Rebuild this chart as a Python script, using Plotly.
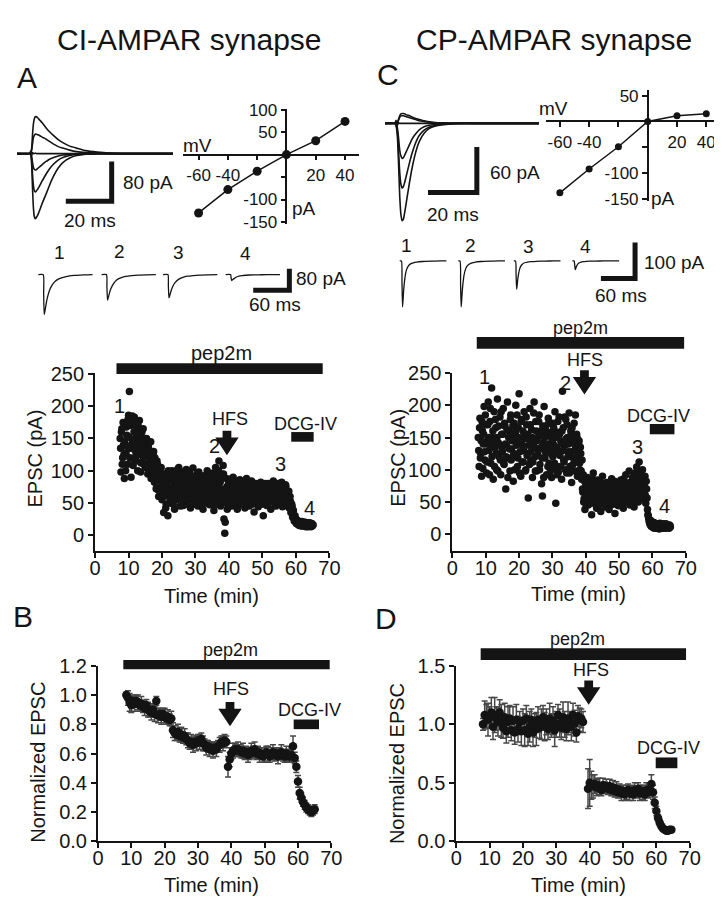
import plotly.graph_objects as go

W, H = 722, 900
FONT = "Liberation Sans, Arial, Helvetica, sans-serif"
INK = "#141414"

# ====================== DATA ======================
HOLD_MV = [-60, -40, -20, 0, 20, 40]
A_IV_PA = [-130, -78, -37, 0, 31, 74]
C_IV_PA = [-138, -92, -49, 0, 11, 15]

# A: EPSCs at the holding potentials above (CI-AMPAR)
A_TR_MS = [0, 5.5, 6.0, 6.4, 6.8, 7.2, 7.6, 8.0, 8.5, 9, 10, 11, 12, 13, 14, 16, 18, 20, 23, 26, 30, 35, 40, 50, 60, 68]
A_TR_PA = [
    [0, 0, -2, -20, -70, -110, -127, -131, -128, -124, -113, -100, -89, -78, -66, -45, -29, -18, -9, -4, -1, 0, 0, 0, 0, 0],
    [0, 0, -1, -12, -42, -65, -75, -77, -75, -72, -64, -55, -47, -39, -32, -21, -13, -8, -4, -2, -0.5, 0, 0, 0, 0, 0],
    [0, 0, -1, -5, -18, -28, -32, -33, -32, -30, -26, -22, -18, -15, -12, -8, -5, -3, -1.5, -0.5, 0, 0, 0, 0, 0, 0],
    [0, 0, 5, -4, 2, 0, 0, 1, 0, 0, 0, 0, 0, 0, 0, 0, 0, 0, 0, 0, 0, 0, 0, 0, 0, 0],
    [0, 0, 1, 6, 20, 32, 37, 39, 39, 38, 36, 33, 31, 28, 25, 19, 14, 11, 7, 4, 2, 1, 0.5, 0, 0, 0],
    [0, 0, 2, 10, 38, 60, 70, 74, 74, 72, 67, 62, 56, 50, 45, 36, 28, 22, 15, 11, 6, 3, 1, 0, 0, 0],
]
# C: EPSCs at the holding potentials above (CP-AMPAR)
C_TR_MS = [0, 4.0, 4.5, 5.0, 5.5, 6.0, 6.5, 7.0, 7.5, 8, 9, 10, 11, 12, 13, 14, 16, 18, 20, 23, 26, 30, 40, 50, 63]
C_TR_PA = [
    [0, 0, -3, -15, -50, -95, -120, -128, -126, -118, -98, -78, -60, -45, -33, -24, -13, -7, -4, -2, -1, 0, 0, 0, 0],
    [0, 0, -2, -10, -34, -64, -80, -85, -83, -78, -65, -52, -40, -30, -22, -16, -9, -5, -3, -1.5, -0.5, 0, 0, 0, 0],
    [0, 0, -1, -5, -18, -35, -43, -46, -45, -42, -35, -28, -21, -16, -12, -8.5, -4.5, -2.5, -1.5, -0.7, -0.3, 0, 0, 0, 0],
    [0, 0, 4, -3, 1, 0, 0, 0, 0, 0, 0, 0, 0, 0, 0, 0, 0, 0, 0, 0, 0, 0, 0, 0, 0],
    [0, 0, 0, 1, 4, 8, 10, 10, 10, 9.5, 8.5, 7.5, 6.5, 5.5, 4.5, 3.5, 2.5, 1.5, 1, 0.5, 0.2, 0, 0, 0, 0],
    [0, 0, 0, 1.5, 5, 10, 12.5, 13, 13, 12.5, 11, 10, 8.5, 7, 6, 5, 3.5, 2, 1.2, 0.6, 0.3, 0, 0, 0, 0],
]

# example sweeps 1-4 (times marked on the time course)
A_SWEEP_MS = [0, 8, 8.8, 9.8, 11, 13, 15, 18, 22, 27, 33, 40, 50, 60, 75, 90]
A_SWEEPS = [
    [0, 0, -70, -149, -135, -108, -86, -62, -42, -27, -17, -11, -6, -3, -1, 0],
    [0, 0, -45, -95, -86, -69, -55, -40, -27, -17, -11, -7, -4, -2, -1, 0],
    [0, 0, -41, -87, -79, -63, -50, -36, -25, -16, -10, -6, -3.5, -2, -1, 0],
    [0, 0, -10, -22, -20, -16, -13, -9, -6, -4, -2.5, -1.5, -1, -0.5, 0, 0],
]
C_SWEEP_MS = [0, 3, 4, 5, 6, 7, 8.5, 10, 12, 15, 19, 24, 30, 40, 55, 70, 82]
C_SWEEPS = [
    [0, 0, -60, -127, -105, -80, -55, -38, -24, -14, -8, -5, -3, -1.5, -0.5, 0, 0],
    [0, 0, -62, -127, -108, -83, -58, -40, -26, -15, -9, -5.5, -3, -1.5, -0.5, 0, 0],
    [0, 0, -38, -78, -66, -50, -35, -24, -15, -9, -5, -3, -2, -1, -0.3, 0, 0],
    [0, 0, -12, -24, -20, -15, -11, -7.5, -5, -3, -1.7, -1, -0.6, -0.3, 0, 0, 0],
]

# single-cell time courses: EPSCs every 0.25 min, two interleaved sets (offset 0.125 min)
EPSC_DT = 0.25
A_T0 = 7.5
A_EPSC = [
    150, 98, 165, 120, 140, 88, 172, 128, 155, 110,
    186, 223, 135, 90, 180, 145, 118, 183, 150, 125,
    165, 100, 140, 178, 132, 112, 160, 138, 120, 150,
    105, 142, 128, 95, 135, 112, 125, 88, 118, 100,
    130, 82, 108, 72, 115, 90, 60, 98, 75, 105,
    55, 85, 35, 70, 95, 48, 78, 30, 65, 90,
    50, 72, 100, 58, 82, 40, 68, 95, 55, 75,
    105, 62, 45, 85, 70, 98, 52, 78, 60, 102,
    48, 88, 66, 95, 42, 75, 58, 104, 70, 52,
    90, 63, 80, 45, 98, 68, 55, 85, 72, 40,
    92, 60, 78, 50, 100, 66, 84, 47, 70, 96,
    58, 80, 38, 74, 105, 62, 88, 52, 115, 70,
    45, 95, 60, 108, 25, 3, 50, 88, 40, 65,
    78, 55, 85, 45, 70, 90, 60, 50, 80, 66,
    40, 74, 58, 86, 48, 68, 55, 80, 62, 42,
    72, 88, 52, 66, 45, 78, 60, 84, 50, 70,
    36, 64, 80, 56, 74, 44, 68, 58, 82, 48,
    66, 30, 72, 54, 78, 46, 62, 80, 52, 68,
    40, 76, 58, 84, 50, 64, 45, 72, 56, 80,
    48, 66, 58, 82, 44, 70, 60, 52, 76, 46,
    64, 55, 42, 60, 35, 48, 28, 38, 22, 30,
    20, 24, 17, 22, 15, 19, 16, 21, 14, 18,
    15, 20, 13, 17, 15, 19, 14, 16, 13, 18,
    15,
]
A_T0_2 = 7.625
A_EPSC_2 = [
    135, 160, 110, 175, 125, 145, 100, 168, 138, 180,
    152, 120, 170, 140, 185, 108, 160, 132, 172, 115,
    145, 170, 125, 155, 98, 148, 130, 165, 110, 142,
    125, 150, 108, 138, 120, 100, 145, 115, 92, 128,
    105, 120, 95, 88, 110, 70, 100, 85, 65, 92,
    75, 60, 95, 80, 42, 88, 62, 100, 70, 55,
    85, 64, 90, 48, 76, 88, 60, 80, 102, 66,
    78, 90, 58, 70, 92, 46, 84, 66, 95, 56,
    74, 60, 98, 80, 55, 88, 66, 78, 48, 92,
    70, 56, 96, 62, 84, 74, 50, 90, 64, 80,
    68, 86, 56, 76, 62, 92, 54, 80, 66, 52,
    88, 70, 60, 94, 48, 78, 66, 100, 58, 82,
    72, 88, 52, 95, 68, 20, 60, 75, 52, 80,
    62, 72, 52, 88, 60, 76, 68, 82, 56, 72,
    62, 84, 52, 70, 76, 58, 66, 50, 74, 62,
    58, 76, 64, 82, 54, 68, 72, 48, 64, 76,
    56, 70, 62, 48, 66, 76, 54, 72, 60, 64,
    74, 56, 64, 80, 60, 70, 50, 66, 74, 58,
    66, 54, 70, 62, 74, 56, 80, 62, 68, 52,
    72, 60, 76, 54, 64, 70, 56, 78, 62, 68,
    56, 68, 48, 52, 40, 44, 32, 26, 25, 22,
    18, 21, 19, 16, 20, 17, 14, 19, 16, 20,
    17, 14, 18, 16, 13, 17, 19, 15, 17, 14,
    16,
]
C_T0 = 7.75
C_EPSC = [
    150, 105, 180, 125, 90, 160, 140, 198, 115, 170,
    95, 145, 205, 130, 175, 110, 227, 150, 85, 190,
    135, 165, 100, 210, 142, 120, 182, 92, 155, 128,
    195, 108, 168, 70, 138, 205, 118, 160, 98, 185,
    132, 150, 82, 172, 122, 200, 145, 105, 165, 218,
    128, 90, 178, 138, 112, 190, 155, 100, 170, 125,
    56, 148, 195, 115, 162, 88, 140, 205, 120, 175,
    98, 150, 130, 185, 108, 160, 78, 59, 142, 198,
    118, 168, 92, 135, 180, 110, 152, 125, 88, 172,
    140, 102, 190, 48, 130, 158, 96, 182, 122, 145,
    85, 222, 165, 112, 138, 178, 95, 150, 128, 188,
    105, 160, 80, 142, 118, 172, 98, 135, 155, 90,
    120, 145, 100, 125, 85, 70, 92, 55, 38, 75,
    60, 88, 45, 68, 52, 80, 30, 62, 95, 48,
    72, 58, 40, 84, 65, 50, 76, 35, 60, 90,
    55, 70, 42, 66, 80, 50, 62, 38, 74, 56,
    86, 46, 68, 58, 32, 78, 52, 64, 44, 72,
    60, 84, 48, 66, 40, 76, 56, 92, 50, 70,
    62, 98, 45, 80, 58, 88, 66, 42, 95, 60,
    104, 72, 50, 112, 68, 85, 55, 100, 76, 62,
    90, 48, 70, 38, 28, 20, 16, 21, 12, 15,
    10, 18, 13, 9, 16, 11, 14, 8, 17, 12,
    10, 15, 9, 13, 11, 16, 10, 14, 12, 9,
    13,
]
C_T0_2 = 7.875
C_EPSC_2 = [
    130, 165, 118, 145, 175, 102, 155, 128, 185, 140,
    112, 170, 150, 92, 195, 135, 120, 160, 142, 105,
    178, 125, 150, 98, 168, 138, 115, 190, 130, 155,
    110, 172, 140, 120, 162, 88, 150, 132, 178, 115,
    145, 168, 125, 100, 158, 138, 185, 118, 150, 95,
    140, 175, 112, 160, 130, 148, 98, 182, 122, 155,
    138, 108, 170, 128, 150, 112, 188, 135, 98, 160,
    145, 122, 175, 100, 155, 135, 118, 168, 88, 150,
    128, 160, 140, 105, 172, 132, 98, 158, 145, 120,
    165, 110, 150, 135, 92, 175, 125, 155, 105, 140,
    160, 130, 115, 182, 100, 148, 170, 120, 140, 95,
    152, 128, 165, 108, 145, 130, 185, 112, 150, 125,
    140, 110, 135, 98, 115, 65, 50, 82, 68, 45,
    72, 55, 80, 62, 48, 70, 58, 85, 52, 66,
    60, 76, 50, 68, 45, 82, 58, 70, 64, 52,
    78, 62, 48, 72, 58, 68, 80, 54, 64, 46,
    70, 60, 52, 82, 64, 56, 74, 48, 68, 58,
    76, 54, 64, 58, 86, 50, 68, 62, 74, 56,
    70, 80, 58, 66, 74, 52, 84, 62, 70, 78,
    66, 88, 60, 94, 72, 80, 58, 86, 68, 74,
    60, 82, 56, 30, 24, 18, 14, 12, 16, 11,
    14, 9, 15, 12, 10, 16, 13, 11, 15, 9,
    12, 16, 11, 14, 9, 13, 15, 10, 12, 14,
    11,
]

# group means (normalized) +/- SEM, one bin every 0.5 min
BIN_DT = 0.5
B_T0 = 8.5
B_NORM = [
    1.00, 0.98, 0.95, 0.93, 0.96, 0.94, 0.96, 0.95, 0.93, 0.94,
    0.92, 0.91, 0.93, 0.90, 0.89, 0.88, 0.90, 0.87, 0.96, 0.86,
    0.87, 0.85, 0.87, 0.86, 0.84, 0.85, 0.83, 0.84, 0.76, 0.74,
    0.73, 0.75, 0.72, 0.73, 0.71, 0.72, 0.70, 0.69, 0.67, 0.68,
    0.66, 0.68, 0.67, 0.69, 0.68, 0.70, 0.67, 0.66, 0.64, 0.65,
    0.63, 0.64, 0.62, 0.64, 0.63, 0.65, 0.66, 0.68, 0.67, 0.69,
    0.68, 0.51, 0.56, 0.60, 0.62, 0.63, 0.62, 0.63, 0.62, 0.61,
    0.62, 0.60, 0.61, 0.59, 0.60, 0.62, 0.61, 0.63, 0.60, 0.61,
    0.59, 0.60, 0.58, 0.59, 0.61, 0.60, 0.58, 0.60, 0.61, 0.59,
    0.60, 0.58, 0.60, 0.61, 0.59, 0.58, 0.60, 0.59, 0.58, 0.59,
    0.65, 0.57, 0.51, 0.41, 0.33, 0.30, 0.27, 0.25, 0.23, 0.22,
    0.21, 0.20, 0.21, 0.22,
]
B_SEM = [
    0.02, 0.05, 0.06, 0.05, 0.04, 0.05, 0.04, 0.05, 0.04, 0.05,
    0.04, 0.05, 0.04, 0.05, 0.04, 0.05, 0.04, 0.05, 0.03, 0.05,
    0.04, 0.05, 0.04, 0.05, 0.04, 0.05, 0.04, 0.05, 0.05, 0.05,
    0.04, 0.05, 0.04, 0.05, 0.04, 0.05, 0.04, 0.05, 0.04, 0.05,
    0.05, 0.04, 0.05, 0.04, 0.05, 0.04, 0.05, 0.04, 0.05, 0.04,
    0.05, 0.04, 0.05, 0.04, 0.05, 0.04, 0.05, 0.04, 0.05, 0.04,
    0.04, 0.07, 0.05, 0.04, 0.05, 0.04, 0.04, 0.05, 0.04, 0.04,
    0.05, 0.04, 0.04, 0.05, 0.04, 0.05, 0.04, 0.05, 0.04, 0.04,
    0.05, 0.04, 0.04, 0.05, 0.04, 0.05, 0.04, 0.04, 0.05, 0.04,
    0.04, 0.05, 0.04, 0.05, 0.04, 0.04, 0.05, 0.04, 0.04, 0.05,
    0.07, 0.04, 0.04, 0.04, 0.04, 0.03, 0.03, 0.03, 0.03, 0.03,
    0.03, 0.03, 0.03, 0.03,
]
D1_T0 = 8.0
D1_NORM = [
    1.00, 1.08, 1.07, 1.04, 1.06, 1.10, 0.98, 1.08, 1.05, 1.02,
    1.10, 1.03, 0.97, 1.06, 0.94, 1.02, 1.05, 0.95, 1.03, 0.93,
    1.04, 0.96, 1.02, 0.94, 1.03, 0.95, 1.05, 0.92, 0.98, 1.04,
    0.93, 0.99, 0.96, 1.04, 0.97, 1.00, 1.06, 0.98, 1.02, 0.96,
    1.05, 0.99, 1.03, 0.95, 1.00, 1.08, 1.01, 0.97, 1.06, 1.00,
    0.96, 1.05, 1.02, 0.98, 1.08, 1.01, 0.93, 1.07, 1.04, 1.05,
    1.02,
]
D1_SEM = [
    0.05, 0.12, 0.10, 0.14, 0.09, 0.13, 0.11, 0.15, 0.10, 0.12,
    0.11, 0.14, 0.09, 0.12, 0.10, 0.13, 0.11, 0.09, 0.12, 0.10,
    0.13, 0.11, 0.09, 0.12, 0.10, 0.14, 0.11, 0.10, 0.13, 0.09,
    0.12, 0.10, 0.14, 0.11, 0.09, 0.13, 0.10, 0.12, 0.11, 0.09,
    0.13, 0.10, 0.12, 0.14, 0.11, 0.09, 0.12, 0.10, 0.13, 0.11,
    0.10, 0.14, 0.09, 0.12, 0.10, 0.11, 0.08, 0.09, 0.10, 0.08,
    0.09,
]
D2_T0 = 39.5
D2_NORM = [
    0.45, 0.50, 0.48, 0.47, 0.49, 0.46, 0.48, 0.47, 0.44, 0.48,
    0.46, 0.47, 0.45, 0.47, 0.44, 0.46, 0.43, 0.45, 0.42, 0.44,
    0.41, 0.43, 0.40, 0.42, 0.44, 0.41, 0.43, 0.40, 0.44, 0.42,
    0.45, 0.41, 0.43, 0.42, 0.40, 0.44, 0.42, 0.43, 0.49, 0.42,
    0.33, 0.26, 0.20, 0.16, 0.13, 0.11, 0.10, 0.09, 0.09, 0.10,
    0.10,
]
D2_SEM = [
    0.17, 0.20, 0.12, 0.10, 0.08, 0.07, 0.06, 0.07, 0.05, 0.06,
    0.05, 0.06, 0.05, 0.06, 0.05, 0.06, 0.05, 0.06, 0.05, 0.05,
    0.06, 0.05, 0.05, 0.06, 0.05, 0.06, 0.05, 0.05, 0.06, 0.05,
    0.05, 0.06, 0.05, 0.06, 0.05, 0.06, 0.05, 0.05, 0.08, 0.06,
    0.05, 0.04, 0.03, 0.03, 0.02, 0.02, 0.02, 0.02, 0.02, 0.02,
    0.02,
]

# scale bars (ms, pA)
A_BAR = (20, 80)
A_SM_BAR = (60, 80)
C_BAR = (20, 60)
C_SM_BAR = (60, 100)

# ====================== LAYOUT ======================
# name: (axis index, pixel box (left, right, top, bottom), x range, y range)
PANELS = {
    "A_tr": (1, (3, 163, 90, 215), (0, 68.1), (-151, 94)),
    "A_iv": (2, (173, 353, 92, 210), (-70.67, 49.33), (-154.3, 102.2)),
    "A_sm": (3, (20, 340, 250, 310), (0, 518.6), (-174.5, 43.6)),
    "A_sc": (4, (83, 323, 363, 545), (0, 70), (-24.2, 251.5)),
    "C_tr": (5, (380, 540, 85, 215), (0, 64), (-138.5, 28.2)),
    "C_iv": (6, (545, 722, 73, 187), (-69.33, 48.67), (-154.7, 60.4)),
    "C_sm": (7, (390, 700, 225, 300), (0, 531.7), (-140.5, 62.2)),
    "C_sc": (8, (449, 688, 363, 545), (0, 70), (-25.8, 250)),
    "B": (9, (86, 325, 663, 843), (0, 70), (0, 1.2)),
    "D": (10, (453, 692, 663, 843), (0, 70), (0, 1.5)),
}
A_SWEEP_OFFSET = [8, 113, 215, 319]
C_SWEEP_OFFSET = [8.6, 111.5, 209, 312]


def ax_ids(i):
    return ("x" if i == 1 else f"x{i}", "y" if i == 1 else f"y{i}")


def to_px(name, x, y):
    _, (l, r, t, b), (x0, x1), (y0, y1) = PANELS[name]
    return (l + (x - x0) / (x1 - x0) * (r - l), b - (y - y0) / (y1 - y0) * (b - t))


def pp(xp, yp):
    return xp / W, 1 - yp / H


fig = go.Figure()
shapes, annotations = [], []


def add_line(name, xs, ys, width=1.5, shape="spline", mode="lines", msize=8):
    xa, ya = ax_ids(PANELS[name][0])
    line = dict(color=INK, width=width, shape=shape)
    if shape == "spline":
        line["smoothing"] = 0.6
    fig.add_trace(go.Scatter(x=xs, y=ys, mode=mode, line=line,
                             marker=dict(size=msize, color=INK),
                             xaxis=xa, yaxis=ya, showlegend=False, hoverinfo="skip"))


def add_scalebar(name, corner, bar, width=5):
    cx, cy = corner
    add_line(name, [cx - bar[0], cx, cx], [cy, cy, cy + bar[1]], width=width, shape="linear")


def rect_px(x0, y0, x1, y1):
    a, b = pp(x0, y0), pp(x1, y1)
    shapes.append(dict(type="rect", xref="paper", yref="paper", x0=a[0], x1=b[0],
                       y0=b[1], y1=a[1], fillcolor=INK, line=dict(width=0), layer="above"))


def bar_data(name, t0, t1, v0, v1):
    x0, y0 = to_px(name, t0, v1)
    x1, y1 = to_px(name, t1, v0)
    rect_px(x0, y0, x1, y1)


def arrow(name, t, vtop):
    cx, ty = to_px(name, t, vtop)
    pts = [(cx - 4.5, ty), (cx + 4.5, ty), (cx + 4.5, ty + 7), (cx + 12, ty + 7),
           (cx, ty + 25), (cx - 12, ty + 7), (cx - 4.5, ty + 7)]
    path = "M " + " L ".join("%.5f,%.5f" % pp(*p) for p in pts) + " Z"
    shapes.append(dict(type="path", xref="paper", yref="paper", path=path,
                       fillcolor=INK, line=dict(width=0), layer="above"))


def text_px(xp, yp, s, size=18, xanchor="center", angle=0):
    x, y = pp(xp, yp)
    annotations.append(dict(x=x, y=y, xref="paper", yref="paper", text=s, showarrow=False,
                            xanchor=xanchor, yanchor="middle", textangle=angle,
                            font=dict(size=size, family=FONT, color=INK)))


def text_data(name, t, v, s, size=18):
    xp, yp = to_px(name, t, v)
    text_px(xp, yp, s, size)


# ---- traces: family of EPSCs ----
for ys in A_TR_PA:
    add_line("A_tr", A_TR_MS, ys, width=1.6)
add_scalebar("A_tr", (41.3, -96), A_BAR)
for ys in C_TR_PA:
    add_line("C_tr", C_TR_MS, ys, width=1.6)
add_scalebar("C_tr", (37.6, -91), C_BAR)

# ---- I-V ----
add_line("A_iv", HOLD_MV, A_IV_PA, width=1.5, shape="linear", mode="lines+markers", msize=9)
add_line("C_iv", HOLD_MV, C_IV_PA, width=1.5, shape="linear", mode="lines+markers", msize=7)

# ---- example sweeps ----
for off, ys in zip(A_SWEEP_OFFSET, A_SWEEPS):
    add_line("A_sm", [off + t for t in A_SWEEP_MS], ys, width=1.3)
add_scalebar("A_sm", (424.6, -58), A_SM_BAR)
for off, ys in zip(C_SWEEP_OFFSET, C_SWEEPS):
    add_line("C_sm", [off + t for t in C_SWEEP_MS], ys, width=1.3)
add_scalebar("C_sm", (422, -48.6), C_SM_BAR)

# ---- time courses ----
for name, t0, vals in (("A_sc", A_T0, A_EPSC), ("A_sc", A_T0_2, A_EPSC_2),
                       ("C_sc", C_T0, C_EPSC), ("C_sc", C_T0_2, C_EPSC_2)):
    xa, ya = ax_ids(PANELS[name][0])
    fig.add_trace(go.Scatter(x=[t0 + EPSC_DT * k for k in range(len(vals))], y=vals,
                             mode="markers", marker=dict(size=7.5, color=INK, line=dict(width=0)),
                             xaxis=xa, yaxis=ya, showlegend=False, hoverinfo="skip"))

for name, t0, vals, sem in (("B", B_T0, B_NORM, B_SEM), ("D", D1_T0, D1_NORM, D1_SEM),
                            ("D", D2_T0, D2_NORM, D2_SEM)):
    xa, ya = ax_ids(PANELS[name][0])
    fig.add_trace(go.Scatter(x=[t0 + BIN_DT * k for k in range(len(vals))], y=vals,
                             mode="markers", marker=dict(size=8.5, color=INK, line=dict(width=0)),
                             error_y=dict(type="data", array=sem, visible=True, color="#474747",
                                          thickness=1.5, width=3),
                             xaxis=xa, yaxis=ya, showlegend=False, hoverinfo="skip"))

# ---- axes ----
layout = {}
for name, (i, (l, r, t, b), xr, yr) in PANELS.items():
    xk = "xaxis" if i == 1 else f"xaxis{i}"
    yk = "yaxis" if i == 1 else f"yaxis{i}"
    xa, ya = ax_ids(i)
    layout[xk] = dict(domain=[l / W, r / W], range=list(xr), anchor=ya, visible=False, fixedrange=True)
    layout[yk] = dict(domain=[1 - b / H, 1 - t / H], range=list(yr), anchor=xa, visible=False, fixedrange=True)

common = dict(visible=True, showline=True, linecolor=INK, showgrid=False, zeroline=False,
              ticks="outside", tickcolor=INK)

for name, lab_y in (("A_iv", [100, 50, -50, -100, -150]), ("C_iv", [50, -50, -100, -150])):
    i = PANELS[name][0]
    ox, oy = pp(*to_px(name, 0, 0))
    layout[f"xaxis{i}"].update(common, anchor="free", position=oy, linewidth=1.5, ticklen=5, tickwidth=1.5,
                               tickvals=[-60, -40, -20, 20, 40], ticktext=["-60", "-40", "", "20", "40"],
                               tickfont=dict(size=17, family=FONT, color=INK))
    layout[f"yaxis{i}"].update(common, anchor="free", position=ox, linewidth=1.5, ticklen=5, tickwidth=1.5,
                               tickvals=lab_y, ticktext=["" if v == -50 else str(v) for v in lab_y],
                               tickfont=dict(size=17, family=FONT, color=INK))

for name, yt, fmt in (("A_sc", [0, 50, 100, 150, 200, 250], "d"), ("C_sc", [0, 50, 100, 150, 200, 250], "d"),
                      ("B", [0, 0.2, 0.4, 0.6, 0.8, 1.0, 1.2], ".1f"), ("D", [0, 0.5, 1.0, 1.5], ".1f")):
    i = PANELS[name][0]
    st = dict(common, linewidth=2, ticklen=5, tickwidth=2, tickfont=dict(size=20, family=FONT, color=INK))
    layout[f"xaxis{i}"].update(st, tickvals=list(range(0, 71, 10)), ticklabelstandoff=-7)
    layout[f"yaxis{i}"].update(st, tickvals=yt, tickformat=fmt)

# ---- drug bars, HFS arrows, labels ----
EVENTS = {
    "A_sc": dict(pep=(6.4, 68.0, 250, 267), pep_lbl=(37.9, 283, 20), hfs=(39.4, 162), hfs_lbl=(40.2, 180),
                 dcg=(58.6, 65.3, 145, 160), dcg_lbl=(63.0, 173),
                 nums=[(7.3, 201), (35.6, 138), (55.4, 111), (64.1, 42)]),
    "C_sc": dict(pep=(7.3, 69.5, 288, 306), pep_lbl=(38.4, 320, 18), hfs=(39.6, 254.5), hfs_lbl=(39.9, 271),
                 dcg=(59.2, 66.6, 155, 171), dcg_lbl=(61.9, 183),
                 nums=[(9.7, 244), (34.0, 235), (55.4, 135), (63.6, 44)]),
    "B": dict(pep=(7.6, 69.5, 1.177, 1.24), pep_lbl=(39.9, 1.307, 18), hfs=(39.6, 0.953), hfs_lbl=(40.0, 1.04),
              dcg=(58.7, 66.3, 0.767, 0.833), dcg_lbl=(63.3, 0.9), nums=[]),
    "D": dict(pep=(7.3, 68.9, 1.55, 1.65), pep_lbl=(36.4, 1.733, 18), hfs=(39.7, 1.375), hfs_lbl=(40.5, 1.467),
              dcg=(59.8, 66.3, 0.625, 0.717), dcg_lbl=(63.6, 0.8), nums=[]),
}
for name, ev in EVENTS.items():
    bar_data(name, *ev["pep"])
    text_data(name, ev["pep_lbl"][0], ev["pep_lbl"][1], "pep2m", ev["pep_lbl"][2])
    arrow(name, *ev["hfs"])
    text_data(name, *ev["hfs_lbl"], "HFS")
    bar_data(name, *ev["dcg"])
    text_data(name, *ev["dcg_lbl"], "DCG-IV")
    for k, (t, v) in enumerate(ev["nums"]):
        text_data(name, t, v, str(k + 1), 20)

# titles, panel letters
text_px(180, 21, "CI-AMPAR synapse", 30)
text_px(553, 21, "CP-AMPAR synapse", 30)
for s, x, y in (("A", 13, 60), ("C", 383, 57), ("B", 9, 612), ("D", 381, 615)):
    text_px(x, y, s, 30)

# sweep numbers and scale-bar labels
for k, (x, y) in enumerate([(47, 239), (108, 238), (168, 239), (237, 240)]):
    text_px(x, y, str(k + 1), 19)
for k, (x, y) in enumerate([(402, 232), (467, 232), (527, 233), (585, 233)]):
    text_px(x, y, str(k + 1), 19)
text_px(110, 168, "%d pA" % A_BAR[1], 19, xanchor="left")
text_px(78, 207, "%d ms" % A_BAR[0], 19)
text_px(287, 266, "%d pA" % A_SM_BAR[1], 19, xanchor="left")
text_px(267, 293, "%d ms" % A_SM_BAR[0], 19)
text_px(485, 157, "%d pA" % C_BAR[1], 19, xanchor="left")
text_px(450, 200, "%d ms" % C_BAR[0], 19)
text_px(643, 250, "%d pA" % C_SM_BAR[1], 19, xanchor="left")
text_px(622, 283, "%d ms" % C_SM_BAR[0], 19)
text_px(188, 130, "mV", 19)
text_px(297, 194, "pA", 19)
text_px(553, 92, "mV", 19)
text_px(665, 184, "pA", 19)

# axis titles
text_px(22, 450, "EPSC (pA)", 20, angle=-90)
text_px(393, 450, "EPSC (pA)", 20, angle=-90)
text_px(25, 762, "Normalized EPSC", 20, angle=-90)
text_px(393, 763, "Normalized EPSC", 20, angle=-90)
for x, y in ((202, 591), (578, 589), (202, 888), (578, 888)):
    text_px(x, y, "Time (min)", 20)

fig.update_layout(width=W, height=H, autosize=False, margin=dict(l=0, r=0, t=0, b=0),
                  paper_bgcolor="white", plot_bgcolor="white",
                  font=dict(family=FONT, color=INK), shapes=shapes, annotations=annotations,
                  **layout)

fig.write_html("out.html")
